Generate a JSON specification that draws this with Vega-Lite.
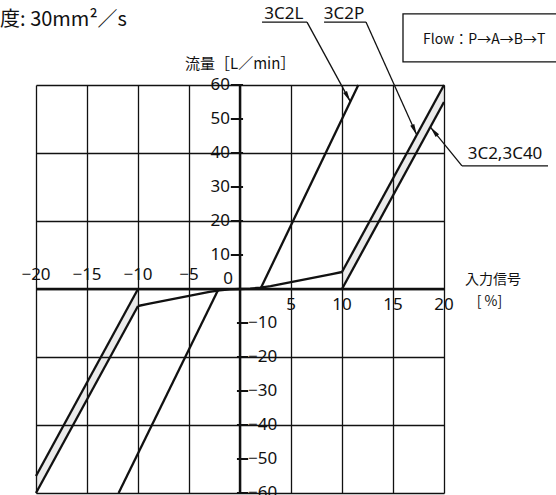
{
  "$schema": "https://vega.github.io/schema/vega-lite/v6.json",
  "width": 408,
  "height": 408,
  "autosize": "none",
  "padding": {"left": 36, "top": 85, "right": 112, "bottom": 2},
  "background": "white",
  "config": {"view": {"stroke": null}, "font": "Noto Sans CJK JP"},
  "datasets": {
    "band": [
      {"side": "r", "x": 10, "lo": 0, "hi": 5},
      {"side": "r", "x": 20, "lo": 55, "hi": 60},
      {"side": "l", "x": -20, "lo": -60, "hi": -55},
      {"side": "l", "x": -10, "lo": -5, "hi": 0}
    ],
    "lines": [
      {"s": "c", "x": -10, "y": -5},
      {"s": "c", "x": -9, "y": -4.4},
      {"s": "c", "x": -8, "y": -3.8},
      {"s": "c", "x": -7, "y": -3.2},
      {"s": "c", "x": -6, "y": -2.6},
      {"s": "c", "x": -5, "y": -2.0},
      {"s": "c", "x": -4, "y": -1.4},
      {"s": "c", "x": -3, "y": -0.85},
      {"s": "c", "x": -2, "y": -0.4},
      {"s": "c", "x": -1, "y": -0.1},
      {"s": "c", "x": 0, "y": 0},
      {"s": "c", "x": 1, "y": 0.1},
      {"s": "c", "x": 2, "y": 0.4},
      {"s": "c", "x": 3, "y": 0.85},
      {"s": "c", "x": 4, "y": 1.4},
      {"s": "c", "x": 5, "y": 2.0},
      {"s": "c", "x": 6, "y": 2.6},
      {"s": "c", "x": 7, "y": 3.2},
      {"s": "c", "x": 8, "y": 3.8},
      {"s": "c", "x": 9, "y": 4.4},
      {"s": "c", "x": 10, "y": 5},
      {"s": "3C2L_r", "x": 2, "y": 0},
      {"s": "3C2L_r", "x": 11.6, "y": 60},
      {"s": "3C2L_l", "x": -2.1, "y": 0},
      {"s": "3C2L_l", "x": -11.9, "y": -60},
      {"s": "3C2P_r", "x": 10, "y": 5},
      {"s": "3C2P_r", "x": 20, "y": 60},
      {"s": "3C2P_l", "x": -10, "y": -5},
      {"s": "3C2P_l", "x": -20, "y": -60},
      {"s": "3C40_r", "x": 10, "y": 0},
      {"s": "3C40_r", "x": 20, "y": 55},
      {"s": "3C40_l", "x": -10, "y": 0},
      {"s": "3C40_l", "x": -20, "y": -55}
    ],
    "yt": [
      {"v": 60, "lab": "60"}, {"v": 50, "lab": "50"}, {"v": 40, "lab": "40"},
      {"v": 30, "lab": "30"}, {"v": 20, "lab": "20"}, {"v": 10, "lab": "10"},
      {"v": -10, "lab": "−10"}, {"v": -20, "lab": "−20"}, {"v": -30, "lab": "−30"},
      {"v": -40, "lab": "−40"}, {"v": -50, "lab": "−50"}, {"v": -60, "lab": "−60"}
    ],
    "xt": [
      {"v": -20, "lab": "−20"}, {"v": -15, "lab": "−15"}, {"v": -10, "lab": "−10"},
      {"v": -5, "lab": "−5"}, {"v": 5, "lab": "5"}, {"v": 10, "lab": "10"},
      {"v": 15, "lab": "15"}, {"v": 20, "lab": "20"}
    ],
    "labels": [
      {"x": 4.3, "y": 80.9, "t": "3C2L"},
      {"x": 10.2, "y": 80.9, "t": "3C2P"},
      {"x": 25.98, "y": 39.7, "t": "3C2,3C40"}
    ],
    "leaders": [
      {"x": 2.16, "y": 78.5, "x2": 6.57, "y2": 78.5},
      {"x": 6.57, "y": 78.5, "x2": 10.82, "y2": 55.1},
      {"x": 8.24, "y": 78.5, "x2": 12.35, "y2": 78.5},
      {"x": 12.35, "y": 78.5, "x2": 17.33, "y2": 45.3},
      {"x": 21.76, "y": 36.2, "x2": 30.2, "y2": 36.2},
      {"x": 21.76, "y": 36.2, "x2": 18.67, "y2": 47.6}
    ]
  },
  "layer": [
    {
      "data": {"name": "band"},
      "mark": {"type": "area", "color": "#ebebeb", "opacity": 1},
      "encoding": {
        "x": {"field": "x", "type": "quantitative",
          "scale": {"domain": [-20, 20], "nice": false, "zero": false},
          "axis": {"values": [-20, -15, -10, -5, 0, 5, 10, 15, 20], "grid": true, "gridColor": "#111", "gridWidth": 1.3, "gridOpacity": 1, "labels": false, "ticks": false, "domain": false, "title": null, "zindex": 1}},
        "y": {"field": "lo", "type": "quantitative",
          "scale": {"domain": [-60, 60], "nice": false, "zero": false},
          "axis": {"values": [-60, -50, -40, -30, -20, -10, 0, 10, 20, 30, 40, 50, 60], "grid": true, "gridColor": "#111", "gridWidth": 1.3, "gridOpacity": 1, "labels": false, "ticks": false, "domain": false, "title": null, "zindex": 1}},
        "y2": {"field": "hi"},
        "detail": {"field": "side"}
      }
    },
    {
      "data": {"name": "lines"},
      "mark": {"type": "line", "color": "#111", "strokeWidth": 2.3, "strokeJoin": "round"},
      "encoding": {
        "x": {"field": "x", "type": "quantitative"},
        "y": {"field": "y", "type": "quantitative"},
        "detail": {"field": "s"}
      }
    },
    {
      "data": {"values": [{}]},
      "mark": {"type": "rule", "color": "#111", "strokeWidth": 2.4},
      "encoding": {"x": {"datum": 0, "type": "quantitative"}}
    },
    {
      "data": {"values": [{}]},
      "mark": {"type": "rule", "color": "#111", "strokeWidth": 2.4},
      "encoding": {"y": {"datum": 0, "type": "quantitative"}}
    },
    {
      "data": {"name": "yt"},
      "transform": [{"filter": "datum.v > 0"}],
      "mark": {"type": "rule", "color": "#111", "strokeWidth": 2},
      "encoding": {
        "y": {"field": "v", "type": "quantitative"},
        "x": {"datum": -0.9, "type": "quantitative"},
        "x2": {"datum": 0.3}
      }
    },
    {
      "data": {"name": "yt"},
      "transform": [{"filter": "datum.v < 0"}],
      "mark": {"type": "rule", "color": "#111", "strokeWidth": 2},
      "encoding": {
        "y": {"field": "v", "type": "quantitative"},
        "x": {"datum": -0.3, "type": "quantitative"},
        "x2": {"datum": 0.8}
      }
    },
    {
      "data": {"name": "yt"},
      "transform": [{"filter": "datum.v > 0"}],
      "mark": {"type": "text", "font": "Noto Sans", "fontSize": 17, "align": "right", "baseline": "middle", "dx": -10, "color": "#111"},
      "encoding": {
        "y": {"field": "v", "type": "quantitative"},
        "x": {"datum": 0, "type": "quantitative"},
        "text": {"field": "lab"}
      }
    },
    {
      "data": {"name": "yt"},
      "transform": [{"filter": "datum.v < 0"}],
      "mark": {"type": "text", "font": "Noto Sans", "fontSize": 17, "align": "left", "baseline": "middle", "dx": 8, "color": "#111"},
      "encoding": {
        "y": {"field": "v", "type": "quantitative"},
        "x": {"datum": 0, "type": "quantitative"},
        "text": {"field": "lab"}
      }
    },
    {
      "data": {"name": "xt"},
      "transform": [{"filter": "datum.v < 0"}],
      "mark": {"type": "text", "font": "Noto Sans", "fontSize": 17, "align": "center", "baseline": "middle", "dy": -14, "color": "#111"},
      "encoding": {
        "x": {"field": "v", "type": "quantitative"},
        "y": {"datum": 0, "type": "quantitative"},
        "text": {"field": "lab"}
      }
    },
    {
      "data": {"name": "xt"},
      "transform": [{"filter": "datum.v > 0"}],
      "mark": {"type": "text", "font": "Noto Sans", "fontSize": 17, "align": "center", "baseline": "middle", "dy": 16, "color": "#111"},
      "encoding": {
        "x": {"field": "v", "type": "quantitative"},
        "y": {"datum": 0, "type": "quantitative"},
        "text": {"field": "lab"}
      }
    },
    {
      "data": {"values": [{"t": "0"}]},
      "mark": {"type": "text", "font": "Noto Sans", "fontSize": 17, "align": "center", "baseline": "middle", "dx": -12, "dy": -10, "color": "#111"},
      "encoding": {
        "x": {"datum": 0, "type": "quantitative"},
        "y": {"datum": 0, "type": "quantitative"},
        "text": {"field": "t"}
      }
    },
    {
      "data": {"name": "leaders"},
      "mark": {"type": "rule", "color": "#111", "strokeWidth": 1.3},
      "encoding": {
        "x": {"field": "x", "type": "quantitative"},
        "y": {"field": "y", "type": "quantitative"},
        "x2": {"field": "x2"},
        "y2": {"field": "y2"}
      }
    },
    {
      "data": {"values": [{"x": 10.82, "y": 55.1}]},
      "mark": {"type": "point", "shape": "M0,0L-0.22,1.1L0.22,1.1Z", "size": 400, "filled": true, "color": "#111", "opacity": 1, "angle": 151.4},
      "encoding": {"x": {"field": "x", "type": "quantitative"}, "y": {"field": "y", "type": "quantitative"}}
    },
    {
      "data": {"values": [{"x": 17.33, "y": 45.3}]},
      "mark": {"type": "point", "shape": "M0,0L-0.22,1.1L0.22,1.1Z", "size": 400, "filled": true, "color": "#111", "opacity": 1, "angle": 155.7},
      "encoding": {"x": {"field": "x", "type": "quantitative"}, "y": {"field": "y", "type": "quantitative"}}
    },
    {
      "data": {"values": [{"x": 18.67, "y": 47.6}]},
      "mark": {"type": "point", "shape": "M0,0L-0.22,1.1L0.22,1.1Z", "size": 400, "filled": true, "color": "#111", "opacity": 1, "angle": 321},
      "encoding": {"x": {"field": "x", "type": "quantitative"}, "y": {"field": "y", "type": "quantitative"}}
    },
    {
      "data": {"name": "labels"},
      "mark": {"type": "text", "font": "Noto Sans", "fontSize": 17, "align": "center", "baseline": "middle", "color": "#111"},
      "encoding": {
        "x": {"field": "x", "type": "quantitative"},
        "y": {"field": "y", "type": "quantitative"},
        "text": {"field": "t"}
      }
    },
    {
      "data": {"values": [{"x": 15.98, "x2": 31.2, "y": 80.9, "y2": 66.8}]},
      "mark": {"type": "rect", "fill": "white", "stroke": "#111", "strokeWidth": 1.3},
      "encoding": {
        "x": {"field": "x", "type": "quantitative"},
        "x2": {"field": "x2"},
        "y": {"field": "y", "type": "quantitative"},
        "y2": {"field": "y2"}
      }
    },
    {
      "data": {"values": [{"x": 17.94, "y": 73.2, "t": "Flow：P→A→B→T"}]},
      "mark": {"type": "text", "fontSize": 14, "align": "left", "baseline": "middle", "color": "#111"},
      "encoding": {"x": {"field": "x", "type": "quantitative"}, "y": {"field": "y", "type": "quantitative"}, "text": {"field": "t"}}
    },
    {
      "data": {"values": [{"x": -11.08, "y": 79.1, "t": "粘度: 30mm²／s"}]},
      "mark": {"type": "text", "fontSize": 20, "align": "right", "baseline": "middle", "color": "#111"},
      "encoding": {"x": {"field": "x", "type": "quantitative"}, "y": {"field": "y", "type": "quantitative"}, "text": {"field": "t"}}
    },
    {
      "data": {"values": [{"x": -5.39, "y": 66.3, "t": "流量［L／min］"}]},
      "mark": {"type": "text", "fontSize": 15, "align": "left", "baseline": "middle", "color": "#111"},
      "encoding": {"x": {"field": "x", "type": "quantitative"}, "y": {"field": "y", "type": "quantitative"}, "text": {"field": "t"}}
    },
    {
      "data": {"values": [{"x": 22.06, "y": 2.65, "t": "入力信号"}, {"x": 23.2, "y": -3.8, "t": "[ %]"}]},
      "mark": {"type": "text", "fontSize": 14, "align": "left", "baseline": "middle", "color": "#111"},
      "encoding": {"x": {"field": "x", "type": "quantitative"}, "y": {"field": "y", "type": "quantitative"}, "text": {"field": "t"}}
    }
  ]
}
